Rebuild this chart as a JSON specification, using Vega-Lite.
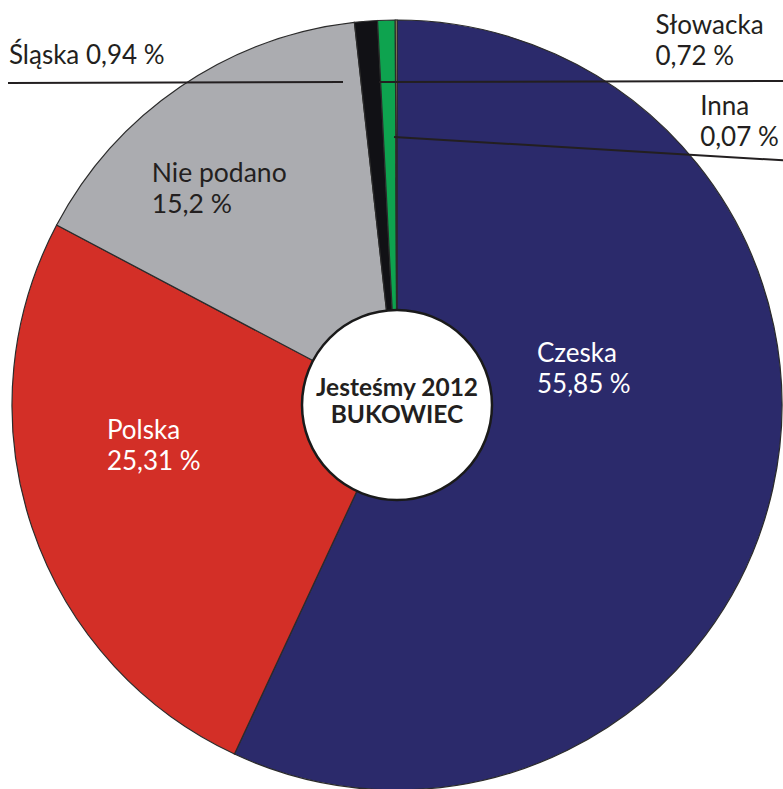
{
  "$schema": "https://vega.github.io/schema/vega-lite/v6.json",
  "width": 794,
  "height": 810,
  "autosize": {"type": "none"},
  "padding": 0,
  "background": "#ffffff",
  "config": {"view": {"stroke": null}, "text": {"font": "Lato"}},
  "datasets": {
    "shares": [
      {"k": "Czeska", "o": 1, "v": 55.85, "label": "Czeska\n55,85 %"},
      {"k": "Polska", "o": 2, "v": 25.31, "label": "Polska\n25,31 %"},
      {"k": "Nie podano", "o": 3, "v": 15.2, "label": "Nie podano\n15,2 %"},
      {"k": "Śląska", "o": 4, "v": 0.94, "label": "Śląska 0,94 %"},
      {"k": "Słowacka", "o": 5, "v": 0.72, "label": "Słowacka\n0,72 %"},
      {"k": "Inna", "o": 6, "v": 0.07, "label": "Inna\n0,07 %"}
    ],
    "leaders": [
      {"k": "Śląska", "xa": 8, "xb": 343, "ya": 83, "yb": 82},
      {"k": "Słowacka", "xa": 379, "xb": 794, "ya": 82, "yb": 81},
      {"k": "Inna", "xa": 394, "xb": 794, "ya": 137, "yb": 161}
    ],
    "centre": [{"title": "Jesteśmy 2012\nBUKOWIEC"}]
  },
  "layer": [
    {
      "data": {"name": "shares"},
      "mark": {"type": "arc", "radius": 385, "stroke": "#2b2b2b", "strokeWidth": 1.2},
      "encoding": {
        "theta": {"field": "v", "type": "quantitative", "stack": true},
        "order": {"field": "o", "type": "quantitative"},
        "color": {
          "field": "k", "type": "nominal", "legend": null,
          "scale": {
            "domain": ["Czeska", "Polska", "Nie podano", "Śląska", "Słowacka", "Inna"],
            "range": ["#2b2a6b", "#d32f27", "#abacb0", "#111115", "#0ea34f", "#f5e48a"]
          }
        }
      }
    },
    {
      "data": {"name": "leaders"},
      "mark": {"type": "rule", "stroke": "#231f20", "strokeWidth": 2},
      "encoding": {
        "x": {"field": "xa", "type": "quantitative", "scale": {"domain": [0, 794], "range": [0, 794]}, "axis": null},
        "x2": {"field": "xb"},
        "y": {"field": "ya", "type": "quantitative", "scale": {"domain": [0, 810], "range": [0, 810]}, "axis": null},
        "y2": {"field": "yb"}
      }
    },
    {
      "data": {"name": "shares"},
      "mark": {"type": "text", "radius": 127, "dx": 16, "dy": -70, "align": "left", "baseline": "alphabetic", "lineBreak": "\n", "lineHeight": 31, "fontSize": 26, "fill": "#ffffff"},
      "encoding": {
        "theta": {"field": "v", "type": "quantitative", "stack": true},
        "order": {"field": "o", "type": "quantitative"},
        "text": {"condition": {"test": "datum.k === 'Czeska'", "field": "label"}, "value": ""}
      }
    },
    {
      "data": {"name": "shares"},
      "mark": {"type": "text", "radius": 286, "dx": -19, "dy": -57, "align": "left", "baseline": "alphabetic", "lineBreak": "\n", "lineHeight": 31, "fontSize": 26, "fill": "#ffffff"},
      "encoding": {
        "theta": {"field": "v", "type": "quantitative", "stack": true},
        "order": {"field": "o", "type": "quantitative"},
        "text": {"condition": {"test": "datum.k === 'Polska'", "field": "label"}, "value": ""}
      }
    },
    {
      "data": {"name": "shares"},
      "mark": {"type": "text", "radius": 322, "dx": -64, "dy": 43, "align": "left", "baseline": "alphabetic", "lineBreak": "\n", "lineHeight": 31, "fontSize": 26.5, "fill": "#231f20"},
      "encoding": {
        "theta": {"field": "v", "type": "quantitative", "stack": true},
        "order": {"field": "o", "type": "quantitative"},
        "text": {"condition": {"test": "datum.k === 'Nie podano'", "field": "label"}, "value": ""}
      }
    },
    {
      "data": {"name": "shares"},
      "mark": {"type": "text", "radius": 385, "dx": -357, "dy": 43, "align": "left", "baseline": "alphabetic", "lineBreak": "\n", "lineHeight": 31, "fontSize": 26, "fill": "#231f20"},
      "encoding": {
        "theta": {"field": "v", "type": "quantitative", "stack": true},
        "order": {"field": "o", "type": "quantitative"},
        "text": {"condition": {"test": "datum.k === 'Śląska'", "field": "label"}, "value": ""}
      }
    },
    {
      "data": {"name": "shares"},
      "mark": {"type": "text", "radius": 385, "dx": 269, "dy": 14, "align": "left", "baseline": "alphabetic", "lineBreak": "\n", "lineHeight": 31, "fontSize": 26, "fill": "#231f20"},
      "encoding": {
        "theta": {"field": "v", "type": "quantitative", "stack": true},
        "order": {"field": "o", "type": "quantitative"},
        "text": {"condition": {"test": "datum.k === 'Słowacka'", "field": "label"}, "value": ""}
      }
    },
    {
      "data": {"name": "shares"},
      "mark": {"type": "text", "radius": 385, "dx": 304, "dy": 95, "align": "left", "baseline": "alphabetic", "lineBreak": "\n", "lineHeight": 31, "fontSize": 26, "fill": "#231f20"},
      "encoding": {
        "theta": {"field": "v", "type": "quantitative", "stack": true},
        "order": {"field": "o", "type": "quantitative"},
        "text": {"condition": {"test": "datum.k === 'Inna'", "field": "label"}, "value": ""}
      }
    },
    {
      "data": {"name": "centre"},
      "mark": {"type": "arc", "radius": 95, "fill": "#ffffff", "stroke": "#1a1a1a", "strokeWidth": 2.5},
      "encoding": {}
    },
    {
      "data": {"name": "centre"},
      "mark": {"type": "text", "align": "center", "baseline": "alphabetic", "dy": -9, "lineBreak": "\n", "lineHeight": 27, "fontSize": 24.5, "fontWeight": "bold", "fill": "#231f20"},
      "encoding": {"text": {"field": "title"}}
    }
  ]
}
